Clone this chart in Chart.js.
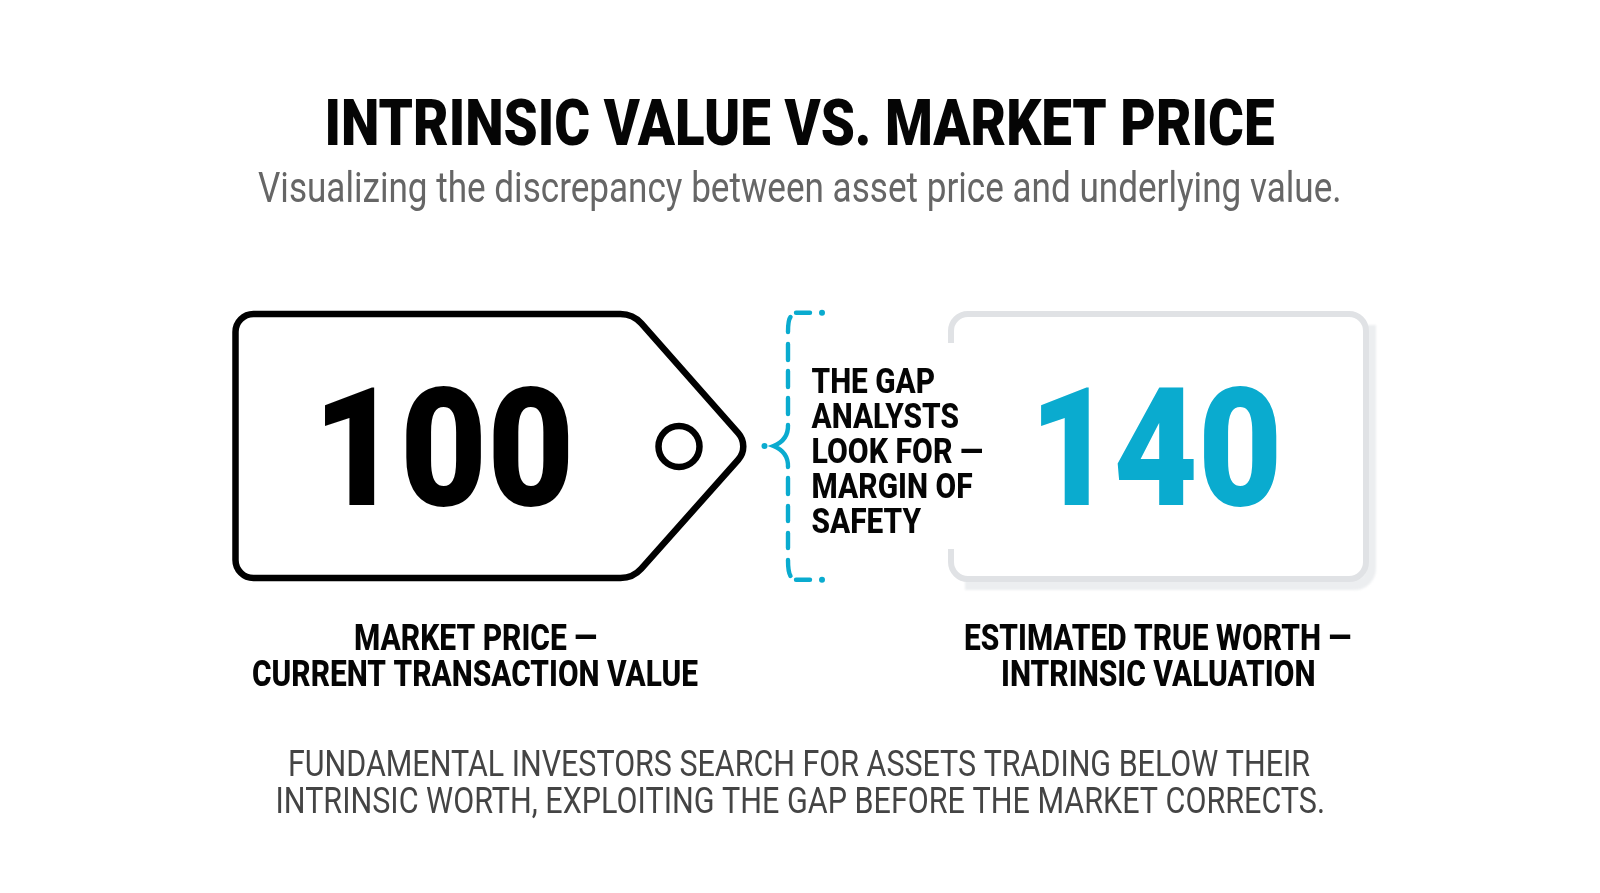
<!DOCTYPE html>
<html>
<head>
<meta charset="utf-8">
<script src="https://cdn.jsdelivr.net/npm/chart.js@4"></script>
<style>
  html, body { margin: 0; padding: 0; background: #fff; }
  #wrap { width: 1600px; height: 893px; }
</style>
</head>
<body>
<div id="wrap"><canvas id="gapChart" width="1600" height="893"></canvas></div>
<script>
const categories = ['Market price', 'Intrinsic value'];
const values = [100, 140];
const titleText = 'INTRINSIC VALUE VS. MARKET PRICE';
const subtitleText = 'Visualizing the discrepancy between asset price and underlying value.';
const gapLines = ['THE GAP', 'ANALYSTS', 'LOOK FOR —', 'MARGIN OF', 'SAFETY'];
const marketLines = ['MARKET PRICE —', 'CURRENT TRANSACTION VALUE'];
const worthLines = ['ESTIMATED TRUE WORTH —', 'INTRINSIC VALUATION'];
const footerLines = ['FUNDAMENTAL INVESTORS SEARCH FOR ASSETS TRADING BELOW THEIR',
                     'INTRINSIC WORTH, EXPLOITING THE GAP BEFORE THE MARKET CORRECTS.'];

const TEAL = '#0aabcf';

// draws text squeezed to a given width, the reference uses a condensed face
function fitText(ctx, text, left, right, baseline, font, color) {
    ctx.save();
    ctx.font = font;
    ctx.fillStyle = color;
    ctx.textAlign = 'left';
    ctx.textBaseline = 'alphabetic';
    const w = ctx.measureText(text).width;
    ctx.translate(left, baseline);
    ctx.scale((right - left) / w, 1);
    ctx.fillText(text, 0, 0);
    ctx.restore();
}

function drawCard(ctx) {
    ctx.save();
    // soft shadow
    ctx.filter = 'blur(1px)';
    ctx.strokeStyle = '#eceef0';
    ctx.lineWidth = 11;
    ctx.beginPath();
    ctx.moveTo(1370.5, 325);
    ctx.lineTo(1370.5, 568);
    ctx.arcTo(1370.5, 584.5, 1354, 584.5, 16);
    ctx.lineTo(965, 584.5);
    ctx.stroke();
    ctx.filter = 'none';
    // card border
    ctx.fillStyle = '#fff';
    ctx.strokeStyle = '#e0e2e5';
    ctx.lineWidth = 6;
    ctx.beginPath();
    ctx.roundRect(951, 314, 415, 265, 17);
    ctx.fill();
    ctx.stroke();
    // the gap text sits on the left edge
    ctx.fillStyle = '#fff';
    ctx.fillRect(945, 343, 12, 206);
    ctx.restore();
}

function drawTag(ctx) {
    ctx.save();
    ctx.strokeStyle = '#000';
    ctx.lineWidth = 6.5;
    ctx.beginPath();
    ctx.moveTo(300, 314);
    ctx.arcTo(633, 314, 750, 446.5, 28);
    ctx.arcTo(750, 446.5, 633, 578, 20);
    ctx.arcTo(633, 578, 235.5, 578, 28);
    ctx.arcTo(235.5, 578, 235.5, 314, 18);
    ctx.arcTo(235.5, 314, 300, 314, 18);
    ctx.closePath();
    ctx.stroke();
    ctx.beginPath();
    ctx.arc(679, 446.5, 20.5, 0, Math.PI * 2);
    ctx.stroke();
    ctx.restore();
}

function drawBracket(ctx) {
    ctx.save();
    ctx.strokeStyle = TEAL;
    ctx.fillStyle = TEAL;
    ctx.lineWidth = 4.4;
    ctx.lineCap = 'round';
    // top corner and dashes
    ctx.beginPath();
    ctx.moveTo(788, 332);
    ctx.quadraticCurveTo(788, 320, 790.5, 317);
    ctx.moveTo(796, 312.7);
    ctx.lineTo(810, 312.7);
    // bottom corner
    ctx.moveTo(788, 560);
    ctx.quadraticCurveTo(788, 572, 790.5, 576);
    ctx.moveTo(796, 579.7);
    ctx.lineTo(810, 579.7);
    // straight dashes
    [[344, 360], [371, 387], [398, 414], [478, 494], [506, 521], [533, 548]].forEach(d => {
        ctx.moveTo(788, d[0]);
        ctx.lineTo(788, d[1]);
    });
    // brace point
    ctx.moveTo(788, 425);
    ctx.quadraticCurveTo(788.5, 440, 773.5, 446);
    ctx.quadraticCurveTo(788.5, 452, 788, 467);
    ctx.stroke();
    [[822, 312.7], [822, 579.7], [764.5, 446]].forEach(p => {
        ctx.beginPath();
        ctx.arc(p[0], p[1], 3, 0, Math.PI * 2);
        ctx.fill();
    });
    ctx.restore();
}

const infographic = {
    id: 'infographic',
    afterDatasetsDraw(chart) {
        const ctx = chart.ctx;
        const nums = chart.data.datasets[0].data;
        const bold = '800 37px Roboto';

        fitText(ctx, titleText, 324.5, 1274.5, 145, '900 65px Roboto', '#050505');
        fitText(ctx, subtitleText, 258, 1341.5, 202, '42px Roboto', '#666666');

        drawCard(ctx);
        drawTag(ctx);
        drawBracket(ctx);

        fitText(ctx, String(nums[0]), 312.8, 574.4, 505, '900 166px Roboto', '#000');
        fitText(ctx, String(nums[1]), 1029.2, 1282.4, 505, '900 166px Roboto', TEAL);

        const gapBase = [393, 428, 462.7, 497.7, 533];
        const gapRight = [935, 959, 983, 972.6, 921];
        gapLines.forEach((t, i) => fitText(ctx, t, 811.5, gapRight[i], gapBase[i], '800 35px Roboto', '#050505'));

        fitText(ctx, marketLines[0], 354, 597, 650, bold, '#050505');
        fitText(ctx, marketLines[1], 252, 698, 686, bold, '#050505');
        fitText(ctx, worthLines[0], 964, 1351, 650, bold, '#050505');
        fitText(ctx, worthLines[1], 1001, 1315.5, 686, bold, '#050505');

        fitText(ctx, footerLines[0], 288, 1310, 776, '36px Roboto', '#444444');
        fitText(ctx, footerLines[1], 275.5, 1325, 813, '36px Roboto', '#444444');
    }
};

new Chart(document.getElementById('gapChart'), {
    type: 'bar',
    data: {
        labels: categories,
        datasets: [{
            label: 'Value',
            data: values,
            backgroundColor: 'rgba(0,0,0,0)'
        }]
    },
    options: {
        responsive: false,
        animation: false,
        devicePixelRatio: 1,
        layout: { padding: 0 },
        plugins: { legend: { display: false }, tooltip: { enabled: false } },
        scales: {
            x: { display: false },
            y: { display: false, beginAtZero: true }
        }
    },
    plugins: [infographic]
});
</script>
</body>
</html>
